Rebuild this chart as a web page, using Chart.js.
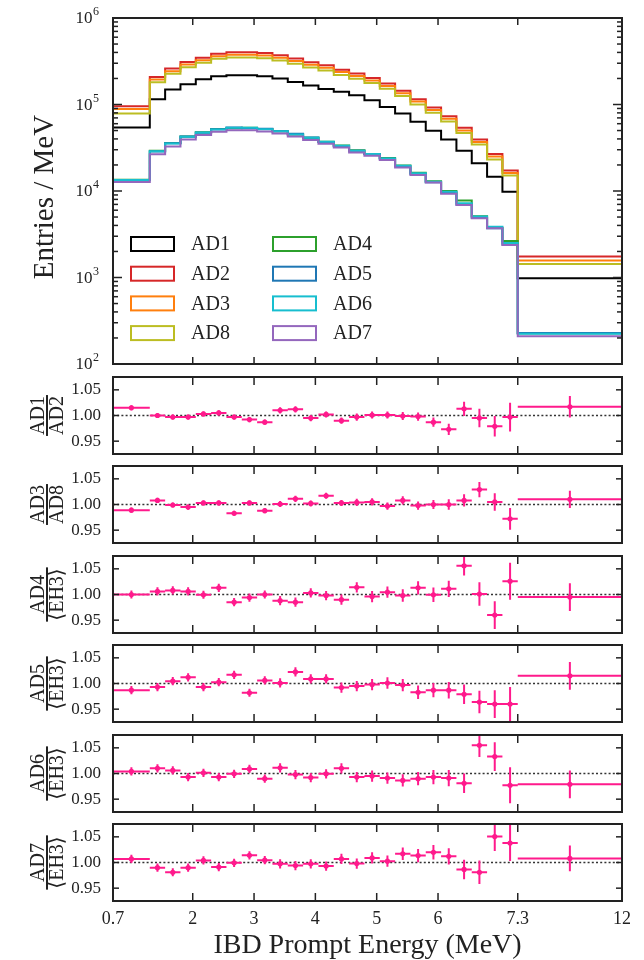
<!DOCTYPE html>
<html><head><meta charset="utf-8">
<script src="https://cdn.jsdelivr.net/npm/chart.js@4.4.1/dist/chart.umd.min.js"></script>
<style>
html,body{margin:0;padding:0;background:#fff;width:644px;height:960px;overflow:hidden}
body{position:relative}
canvas{position:absolute;left:0}
</style></head><body>
<canvas id="c0" width="644" height="372" style="top:0px"></canvas>
<canvas id="c1" width="644" height="87" style="top:372px"></canvas>
<canvas id="c2" width="644" height="87" style="top:461px"></canvas>
<canvas id="c3" width="644" height="87" style="top:551px"></canvas>
<canvas id="c4" width="644" height="87" style="top:640px"></canvas>
<canvas id="c5" width="644" height="87" style="top:730px"></canvas>
<canvas id="c6" width="644" height="141" style="top:819px"></canvas>
<script>
// ---------------- DATA ----------------
const binEdges = [0.7, 1.3, 1.55, 1.8, 2.05, 2.3, 2.55, 2.8, 3.05, 3.3, 3.55, 3.8, 4.05, 4.3, 4.55, 4.8, 5.05, 5.3, 5.55, 5.8, 6.05, 6.3, 6.55, 6.8, 7.05, 7.3, 12];
const tickValues = [0.7, 2, 3, 4, 5, 6, 7.3, 12];
const tickLabels = ['0.7', '2', '3', '4', '5', '6', '7.3', '12'];
const logTicks = [1e2, 1e3, 1e4, 1e5, 1e6];
const ratioTicks = [0.95, 1.00, 1.05];
const detectors = ['AD1', 'AD2', 'AD3', 'AD8', 'AD4', 'AD5', 'AD6', 'AD7'];
const detColors = ['#000000', '#d62728', '#ff7f0e', '#bcbd22', '#2ca02c', '#1f77b4', '#17becf', '#9467bd'];

const spAD1 = [5.43e4, 1.15e5, 1.49e5, 1.71e5, 1.96e5, 2.12e5, 2.18e5, 2.18e5, 2.12e5, 2.00e5, 1.82e5, 1.66e5, 1.51e5, 1.40e5, 1.28e5, 1.12e5, 9.38e4, 7.87e4, 6.30e4, 4.96e4, 3.95e4, 2.92e4, 2.09e4, 1.46e4, 9.8e3, 977];
const spAD2 = [9.55e4, 2.08e5, 2.60e5, 3.10e5, 3.48e5, 3.87e5, 4.01e5, 4.01e5, 3.94e5, 3.70e5, 3.40e5, 3.08e5, 2.84e5, 2.53e5, 2.28e5, 2.03e5, 1.75e5, 1.44e5, 1.15e5, 9.23e4, 7.32e4, 5.37e4, 3.95e4, 2.67e4, 1.73e4, 1750];
const spAD3 = [8.85e4, 1.95e5, 2.43e5, 2.90e5, 3.25e5, 3.62e5, 3.75e5, 3.75e5, 3.68e5, 3.46e5, 3.18e5, 2.88e5, 2.66e5, 2.37e5, 2.13e5, 1.90e5, 1.64e5, 1.35e5, 1.08e5, 8.63e4, 6.85e4, 5.02e4, 3.69e4, 2.50e4, 1.62e4, 1570];
const spAD8 = [7.87e4, 1.81e5, 2.26e5, 2.70e5, 3.03e5, 3.37e5, 3.49e5, 3.49e5, 3.43e5, 3.22e5, 2.96e5, 2.68e5, 2.47e5, 2.20e5, 1.98e5, 1.77e5, 1.52e5, 1.25e5, 1.00e5, 8.03e4, 6.37e4, 4.67e4, 3.44e4, 2.32e4, 1.51e4, 1430];
const spAD4 = [1.35e4, 2.92e4, 3.58e4, 4.26e4, 4.77e4, 5.22e4, 5.30e4, 5.40e4, 5.22e4, 4.90e4, 4.50e4, 4.13e4, 3.72e4, 3.36e4, 2.95e4, 2.68e4, 2.40e4, 1.97e4, 1.63e4, 1.30e4, 1.00e4, 7.75e3, 5.10e3, 3.75e3, 2.65e3, 226];
const spAD5 = [1.33e4, 2.87e4, 3.56e4, 4.26e4, 4.72e4, 5.16e4, 5.42e4, 5.30e4, 5.23e4, 4.90e4, 4.58e4, 4.16e4, 3.68e4, 3.30e4, 2.91e4, 2.66e4, 2.36e4, 1.93e4, 1.57e4, 1.26e4, 9.6e3, 7.0e3, 4.9e3, 3.7e3, 2.4e3, 228];
const spAD6 = [1.34e4, 2.89e4, 3.55e4, 4.23e4, 4.75e4, 5.15e4, 5.37e4, 5.37e4, 5.19e4, 4.92e4, 4.51e4, 4.12e4, 3.71e4, 3.33e4, 2.92e4, 2.67e4, 2.38e4, 1.96e4, 1.60e4, 1.28e4, 9.8e3, 7.21e3, 5.06e3, 3.87e3, 2.51e3, 224];
const spAD7 = [1.27e4, 2.66e4, 3.28e4, 3.94e4, 4.44e4, 4.83e4, 5.05e4, 5.05e4, 4.88e4, 4.63e4, 4.26e4, 3.89e4, 3.52e4, 3.18e4, 2.79e4, 2.55e4, 2.28e4, 1.87e4, 1.53e4, 1.25e4, 9.3e3, 6.9e3, 4.85e3, 3.72e3, 2.38e3, 210];

const ratioAD1AD2 = [1.015, 1.000, 0.997, 0.997, 1.003, 1.005, 0.997, 0.992, 0.987, 1.010, 1.012, 0.995, 1.002, 0.990, 0.997, 1.001, 1.001, 0.999, 0.998, 0.987, 0.973, 1.013, 0.995, 0.979, 0.997, 1.017];
const errAD1AD2 = [0.005, 0.005, 0.005, 0.005, 0.005, 0.005, 0.005, 0.005, 0.005, 0.006, 0.006, 0.006, 0.006, 0.006, 0.007, 0.007, 0.007, 0.008, 0.008, 0.009, 0.011, 0.014, 0.018, 0.020, 0.028, 0.021];
const ratioAD3AD8 = [0.989, 1.008, 0.999, 0.995, 1.003, 1.003, 0.983, 1.003, 0.988, 1.001, 1.011, 1.002, 1.017, 1.003, 1.004, 1.005, 0.997, 1.008, 0.998, 1.000, 1.000, 1.008, 1.029, 1.005, 0.972, 1.010];
const errAD3AD8 = [0.005, 0.005, 0.005, 0.005, 0.005, 0.005, 0.005, 0.005, 0.005, 0.006, 0.006, 0.006, 0.006, 0.006, 0.007, 0.007, 0.007, 0.008, 0.008, 0.009, 0.010, 0.012, 0.015, 0.017, 0.021, 0.017];
const ratioAD4 = [1.000, 1.006, 1.008, 1.006, 0.9995, 1.013, 0.985, 0.994, 1.000, 0.988, 0.985, 1.003, 0.998, 0.990, 1.014, 0.996, 1.0045, 0.998, 1.013, 0.9995, 1.011, 1.056, 1.001, 0.960, 1.026, 0.995];
const errAD4 = [0.008, 0.008, 0.008, 0.008, 0.008, 0.008, 0.008, 0.008, 0.008, 0.009, 0.009, 0.009, 0.009, 0.010, 0.010, 0.011, 0.011, 0.012, 0.013, 0.014, 0.016, 0.019, 0.023, 0.027, 0.036, 0.027];
const ratioAD5 = [0.987, 0.993, 1.0045, 1.012, 0.993, 1.0026, 1.017, 0.982, 1.006, 1.001, 1.0225, 1.009, 1.009, 0.992, 0.995, 0.998, 1.001, 0.997, 0.983, 0.987, 0.987, 0.979, 0.964, 0.960, 0.960, 1.015];
const errAD5 = [0.008, 0.008, 0.008, 0.008, 0.008, 0.008, 0.008, 0.008, 0.008, 0.009, 0.009, 0.009, 0.009, 0.010, 0.010, 0.011, 0.011, 0.012, 0.013, 0.014, 0.016, 0.019, 0.022, 0.027, 0.033, 0.027];
const ratioAD6 = [1.004, 1.010, 1.006, 0.993, 1.0013, 0.993, 0.9994, 1.009, 0.990, 1.011, 0.998, 0.992, 0.9994, 1.010, 0.993, 0.995, 0.991, 0.9865, 0.990, 0.993, 0.991, 0.981, 1.055, 1.033, 0.977, 0.979];
const errAD6 = [0.008, 0.008, 0.008, 0.008, 0.008, 0.008, 0.008, 0.008, 0.008, 0.009, 0.009, 0.009, 0.009, 0.010, 0.010, 0.011, 0.011, 0.012, 0.013, 0.014, 0.016, 0.019, 0.023, 0.028, 0.035, 0.027];
const ratioAD7 = [1.007, 0.990, 0.981, 0.990, 1.004, 0.991, 0.9994, 1.014, 1.0045, 0.9974, 0.994, 0.9974, 0.993, 1.007, 0.998, 1.009, 1.0026, 1.017, 1.0135, 1.020, 1.012, 0.9865, 0.981, 1.0506, 1.038, 1.008];
const errAD7 = [0.008, 0.008, 0.008, 0.008, 0.008, 0.008, 0.008, 0.008, 0.008, 0.009, 0.009, 0.009, 0.009, 0.010, 0.010, 0.011, 0.011, 0.012, 0.013, 0.014, 0.016, 0.019, 0.023, 0.028, 0.035, 0.025];

// ---------------- HELPERS ----------------
const FONT = "'Liberation Serif', 'DejaVu Serif', serif";
const INK = '#222';
const PINK = '#ff1a8c';
const SPLIT = 7.3, DISP_MAX = 9.0, E_MAX = binEdges[binEdges.length - 1];
function toDisp(e) { return e <= SPLIT ? e : SPLIT + (e - SPLIT) * (DISP_MAX - SPLIT) / (E_MAX - SPLIT); }
const dispTicks = tickValues.map(toDisp);
const innerTicks = dispTicks.slice(1, -1);

function histData(vals) {
  const d = vals.map((v, i) => ({ x: toDisp(binEdges[i]), y: v }));
  d.push({ x: toDisp(E_MAX), y: vals[vals.length - 1] });
  return d;
}
function errorData(vals, errs) {
  const h = [], v = [], m = [];
  vals.forEach((val, i) => {
    const lo = toDisp(binEdges[i]), hi = toDisp(binEdges[i + 1]), c = (lo + hi) / 2;
    h.push({ x: lo, y: val }, { x: hi, y: val }, { x: hi, y: null });
    v.push({ x: c, y: val - errs[i] }, { x: c, y: val + errs[i] }, { x: c, y: null });
    m.push({ x: c, y: val });
  });
  return { h, v, m };
}

// ---------------- PLUGINS ----------------
const framePlugin = {
  id: 'frame',
  afterDraw(chart, args, o) {
    if (!o || !o.on) return;
    const { ctx, chartArea: a, scales: { x, y } } = chart;
    ctx.save();
    ctx.strokeStyle = INK;
    const seg = (x1, y1, x2, y2) => { ctx.beginPath(); ctx.moveTo(x1, y1); ctx.lineTo(x2, y2); ctx.stroke(); };
    ctx.lineWidth = 1.5;
    (o.xTicks || []).forEach(v => { const p = x.getPixelForValue(v); seg(p, a.top, p, a.top + o.xLen); seg(p, a.bottom, p, a.bottom - o.xLen); });
    (o.yTicks || []).forEach(v => { const p = y.getPixelForValue(v); seg(a.left, p, a.left + o.yLen, p); seg(a.right, p, a.right - o.yLen, p); });
    (o.yMinor || []).forEach(v => { const p = y.getPixelForValue(v); seg(a.left, p, a.left + o.yMinLen, p); seg(a.right, p, a.right - o.yMinLen, p); });
    ctx.lineWidth = 2;
    ctx.strokeRect(a.left, a.top, a.right - a.left, a.bottom - a.top);
    ctx.restore();
  }
};
const logLabelPlugin = {
  id: 'logLabels',
  afterDraw(chart, args, o) {
    if (!o || !o.values) return;
    const { ctx, scales: { y } } = chart;
    ctx.save();
    ctx.fillStyle = INK;
    ctx.textBaseline = 'middle';
    ctx.textAlign = 'right';
    o.values.forEach(v => {
      const p = y.getPixelForValue(v);
      const k = String(Math.round(Math.log10(v)));
      ctx.font = `12px ${FONT}`;
      const ew = ctx.measureText(k).width;
      ctx.fillText(k, o.right, p - 6);
      ctx.font = `17px ${FONT}`;
      ctx.fillText('10', o.right - ew - 0.5, p + 1);
    });
    ctx.restore();
  }
};
const legendPlugin = {
  id: 'boxLegend',
  afterDraw(chart, args, o) {
    if (!o || !o.on) return;
    const ctx = chart.ctx;
    ctx.save();
    ctx.font = `20px ${FONT}`;
    ctx.textBaseline = 'middle';
    ctx.textAlign = 'left';
    chart.data.datasets.forEach((ds, i) => {
      const col = Math.floor(i / o.rows), row = i % o.rows;
      const bx = o.x0 + col * o.dx, by = o.y0 + row * o.dy;
      ctx.strokeStyle = ds.borderColor;
      ctx.lineWidth = 2;
      ctx.strokeRect(bx, by - 7, 43, 14);
      ctx.fillStyle = INK;
      ctx.fillText(ds.label, bx + 60, by + 1);
    });
    ctx.restore();
  }
};
const yTitlePlugin = {
  id: 'yTitle',
  afterDraw(chart, args, o) {
    if (!o || !o.on) return;
    const { ctx, chartArea: a } = chart;
    const cy = o.cy !== undefined ? o.cy : (a.top + a.bottom) / 2;
    ctx.save();
    ctx.translate(o.x, cy);
    ctx.rotate(-Math.PI / 2);
    ctx.fillStyle = INK;
    ctx.textAlign = 'center';
    ctx.textBaseline = 'alphabetic';
    ctx.font = `${o.size}px ${FONT}`;
    if (o.den) {
      const w = Math.max(ctx.measureText(o.num).width, ctx.measureText(o.den).width) + 2;
      ctx.fillText(o.num, 0, -3);
      ctx.fillText(o.den, 0, 16);
      ctx.fillRect(-w / 2, -1, w, 2);
    } else {
      ctx.textBaseline = 'middle';
      ctx.fillText(o.num, 0, 0);
    }
    ctx.restore();
  }
};
Chart.register(framePlugin, logLabelPlugin, legendPlugin, yTitlePlugin);

// ---------------- TOP SPECTRUM ----------------
const spectra = [spAD1, spAD2, spAD3, spAD8, spAD4, spAD5, spAD6, spAD7];
const minorLog = [];
logTicks.slice(0, -1).forEach(d => { for (let m = 2; m <= 9; m++) minorLog.push(d * m); });

function zeroPad(s) { s.paddingLeft = 0; s.paddingRight = 0; s.paddingTop = 0; s.paddingBottom = 0; }

new Chart(document.getElementById('c0'), {
  type: 'line',
  data: {
    datasets: spectra.map((sp, i) => ({
      label: detectors[i], data: histData(sp), borderColor: detColors[i], borderWidth: 2,
      stepped: 'before', pointRadius: 0, fill: false, order: -i
    }))
  },
  options: {
    responsive: false, animation: false, events: [],
    layout: { padding: { top: 18, bottom: 8, left: 0, right: 22 } },
    plugins: {
      legend: { display: false }, tooltip: { enabled: false },
      frame: { on: true, xTicks: innerTicks, xLen: 7, yTicks: logTicks, yLen: 9, yMinor: minorLog, yMinLen: 5 },
      logLabels: { values: logTicks, right: 99 },
      boxLegend: { on: true, rows: 4, x0: 131, dx: 142, y0: 244, dy: 29.7 },
      yTitle: { on: true, num: 'Entries / MeV', x: 45, cy: 197, size: 29 }
    },
    scales: {
      x: { type: 'linear', min: toDisp(tickValues[0]), max: toDisp(E_MAX),
        grid: { display: false, drawTicks: false }, border: { display: false },
        ticks: { display: false },
        afterFit: s => { s.height = 0; zeroPad(s); } },
      y: { type: 'logarithmic', min: logTicks[0], max: logTicks[logTicks.length - 1],
        grid: { display: false, drawTicks: false }, border: { display: false },
        ticks: { display: false },
        afterFit: s => { s.width = 113; zeroPad(s); } }
    }
  }
});

// ---------------- RATIO PANELS ----------------
const panels = [
  { canvas: 'c1', num: 'AD1', den: 'AD2', vals: ratioAD1AD2, errs: errAD1AD2 },
  { canvas: 'c2', num: 'AD3', den: 'AD8', vals: ratioAD3AD8, errs: errAD3AD8 },
  { canvas: 'c3', num: 'AD4', den: '\u27E8EH3\u27E9', vals: ratioAD4, errs: errAD4 },
  { canvas: 'c4', num: 'AD5', den: '\u27E8EH3\u27E9', vals: ratioAD5, errs: errAD5 },
  { canvas: 'c5', num: 'AD6', den: '\u27E8EH3\u27E9', vals: ratioAD6, errs: errAD6 },
  { canvas: 'c6', num: 'AD7', den: '\u27E8EH3\u27E9', vals: ratioAD7, errs: errAD7 }
];

panels.forEach((p, idx) => {
  const last = idx === panels.length - 1;
  const ed = errorData(p.vals, p.errs);
  new Chart(document.getElementById(p.canvas), {
    type: 'line',
    data: {
      datasets: [
        { data: ed.m, showLine: false, pointRadius: 2.6, pointBackgroundColor: PINK, pointBorderWidth: 0 },
        { data: ed.v, borderColor: PINK, borderWidth: 2, pointRadius: 0, spanGaps: false, fill: false },
        { data: ed.h, borderColor: PINK, borderWidth: 2, pointRadius: 0, spanGaps: false, fill: false },
        { data: [{ x: toDisp(tickValues[0]), y: 1 }, { x: toDisp(E_MAX), y: 1 }], borderColor: '#333', borderWidth: 1.5, borderDash: [2, 2.2], pointRadius: 0, fill: false }
      ]
    },
    options: {
      responsive: false, animation: false, events: [],
      layout: { padding: { top: 5, bottom: last ? 0 : 5, left: 0, right: 22 } },
      plugins: {
        legend: { display: false }, tooltip: { enabled: false },
        frame: { on: true, xTicks: innerTicks, xLen: 8, yTicks: ratioTicks, yLen: 6 },
        yTitle: { on: true, num: p.num, den: p.den, x: 47, size: 20 }
      },
      scales: {
        x: { type: 'linear', min: toDisp(tickValues[0]), max: toDisp(E_MAX),
          grid: { display: false, drawTicks: false }, border: { display: false },
          afterBuildTicks: s => { s.ticks = dispTicks.map(v => ({ value: v })); },
          afterFit: s => { s.height = last ? 59 : 0; zeroPad(s); },
          ticks: { display: last, autoSkip: false, maxRotation: 0, padding: 7, color: INK,
            font: { family: FONT, size: 18 }, callback: (v, i) => tickLabels[i] },
          title: { display: last, text: 'IBD Prompt Energy (MeV)', color: INK, padding: { top: 0, bottom: -2 },
            font: { family: FONT, size: 28 } } },
        y: { type: 'linear', min: 0.925, max: 1.075,
          grid: { display: false, drawTicks: false }, border: { display: false },
          afterBuildTicks: s => { s.ticks = ratioTicks.map(v => ({ value: v })); },
          afterFit: s => { s.width = 113; zeroPad(s); },
          ticks: { padding: 12, color: INK, font: { family: FONT, size: 17 }, callback: v => Number(v).toFixed(2) } }
      }
    }
  });
});
</script>
</body></html>
